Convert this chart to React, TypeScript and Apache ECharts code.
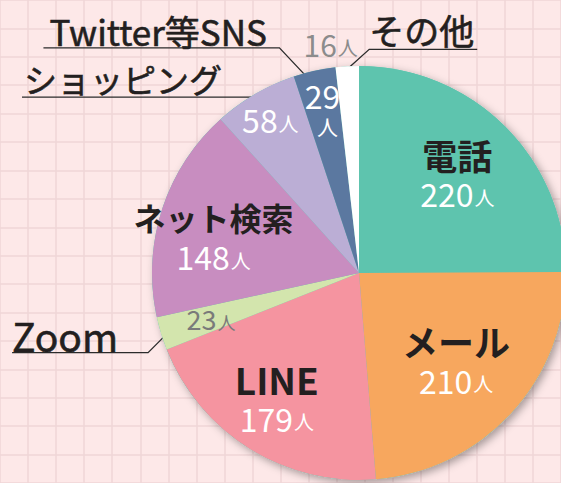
import React, { useEffect, useRef } from "react";
import * as echarts from "echarts";

// ---- data ----
const categories = ["電話", "メール", "LINE", "Zoom", "ネット検索", "ショッピング", "Twitter等SNS", "その他"];
const counts = [220, 210, 179, 23, 148, 58, 29, 16];
const unit = "人";
const sliceColors = ["#5ec4ae", "#f7a75e", "#f594a0", "#d3e5ad", "#c88dc0", "#bbaed5", "#5b78a0", "#ffffff"];
// which labels go where
const insideNamed = ["電話", "メール", "LINE", "ネット検索"];
const outsideNamed = ["Zoom", "ショッピング", "Twitter等SNS", "その他"];
const whiteValueOnly = ["ショッピング"];
const stackedValue = ["Twitter等SNS"];
const greyValue = ["Zoom", "その他"];

const FONT = '"Noto Sans CJK JP", "Noto Sans", sans-serif';
const CENTER: [number, number] = [359, 273];
const R = 207;

// per-label text sizes
const nameSize: Record<string, number> = {
  "電話": 35, "メール": 36, "LINE": 37, "ネット検索": 32,
  "Zoom": 39, "ショッピング": 33, "Twitter等SNS": 35, "その他": 35,
};
// label fine-tuning (offsets from library anchor)
const innerNudge: Record<string, [number, number]> = {
  "電話": [-5, 3],
  "メール": [-11, -13],
  "LINE": [-5, -1],
  "Zoom": [-8, 3],
  "ネット検索": [-6, 7],
  "ショッピング": [-15, -27],
  "Twitter等SNS": [-5, -22],
  "その他": [-20, -83],
};
// leader line geometry relative to slice edge anchor
const outerSpec: Record<string, { start: number[]; elbow: number[]; end: number[]; text: number[] }> = {
  "その他": { start: [1, 2], elbow: [22, -17], end: [130, -17], text: [22, -19] },
  "Twitter等SNS": { start: [-2, 12], elbow: [-35, -23], end: [-271, -23], text: [-265, -23] },
  "ショッピング": { start: [8, 14], elbow: [-3, 3], end: [-233, 3], text: [-231, 1] },
  "Zoom": { start: [10, -4], elbow: [-13, 19], end: [-149, 19], text: [-149, 21] },
};

function innerFormatter(name: string, value: number): string {
  if (insideNamed.includes(name)) return `{n${nameSize[name]}|${name}}\n{v|${value}}{u|${unit}}`;
  if (whiteValueOnly.includes(name)) return `{v|${value}}{u|${unit}}`;
  if (stackedValue.includes(name)) return `{v|${value}}\n{u2|${unit}}`;
  if (greyValue.includes(name)) return name === "その他" ? `{gl|${value}}{glu|${unit}}` : `{g|${value}}{gu|${unit}}`;
  return "";
}

export default function App() {
  const ref = useRef<HTMLDivElement>(null);
  useEffect(() => {
    const chart = echarts.init(ref.current!, null, { renderer: "svg" });
    const gridStep = 32.2;
    const nameRich: Record<string, any> = {};
    insideNamed.forEach((n) => {
      nameRich["n" + nameSize[n]] = {
        fontFamily: FONT, fontSize: nameSize[n], fontWeight: "bold", color: "#231f20", lineHeight: 42,
      };
    });
    const option: any = {
      animation: false,
      backgroundColor: "#fde8e8",
      grid: { left: 20.7 - gridStep, top: 11 - gridStep, width: gridStep * 20, height: gridStep * 17 },
      xAxis: {
        type: "value", min: 0, max: 20, interval: 1,
        axisLine: { show: false }, axisTick: { show: false }, axisLabel: { show: false },
        splitLine: { show: true, lineStyle: { color: "#efd6d7", width: 1.5 } },
      },
      yAxis: {
        type: "value", min: 0, max: 17, interval: 1,
        axisLine: { show: false }, axisTick: { show: false }, axisLabel: { show: false },
        splitLine: { show: true, lineStyle: { color: "#efd6d7", width: 1.5 } },
      },
      series: [
        {
          // shadow disc under the pie
          type: "pie",
          center: CENTER,
          radius: R,
          silent: true,
          label: { show: false },
          labelLine: { show: false },
          data: [{ value: 1, itemStyle: { color: sliceColors[0] } }],
          itemStyle: { shadowBlur: 8, shadowOffsetX: 3, shadowOffsetY: 3, shadowColor: "rgba(0,0,0,0.35)" },
        },
        {
          type: "pie",
          center: CENTER,
          radius: R,
          startAngle: 90,
          clockwise: true,
          silent: true,
          avoidLabelOverlap: false,
          itemStyle: { borderWidth: 0 },
          data: categories.map((name, i) => ({
            name,
            value: counts[i],
            itemStyle: { color: sliceColors[i] },
            label: { show: outsideNamed.includes(name), fontSize: nameSize[name] },
            labelLine: { show: outsideNamed.includes(name) },
          })),
          label: {
            position: "outside",
            formatter: "{b}",
            fontFamily: FONT,
            fontSize: 33,
            fontWeight: "normal",
            color: "#231f20",
            textBorderColor: "#231f20",
            textBorderWidth: 0.6,
          },
          labelLine: { length: 20, length2: 40, lineStyle: { color: "#2b2b2b", width: 1.3 } },
          labelLayout: (p: any) => {
            const name = categories[p.dataIndex];
            const s = outerSpec[name];
            if (!s || !p.labelLinePoints) return {};
            const [ax, ay] = p.labelLinePoints[0];
            return {
              x: ax + s.text[0],
              y: ay + s.text[1],
              align: "left",
              verticalAlign: "bottom",
              labelLinePoints: [
                [ax + s.start[0], ay + s.start[1]],
                [ax + s.elbow[0], ay + s.elbow[1]],
                [ax + s.end[0], ay + s.end[1]],
              ],
            };
          },
        },
        {
          // label overlay
          type: "pie",
          center: CENTER,
          radius: [80, R],
          startAngle: 90,
          clockwise: true,
          silent: true,
          avoidLabelOverlap: false,
          itemStyle: { color: "rgba(0,0,0,0)" },
          labelLine: { show: false },
          data: categories.map((name, i) => ({
            name,
            value: counts[i],
            label: { formatter: innerFormatter(name, counts[i]) },
          })),
          label: {
            show: true,
            position: "inside",
            fontFamily: FONT,
            align: "center",
            rich: {
              ...nameRich,
              v: { fontFamily: FONT, fontSize: 32, color: "#ffffff", lineHeight: 36 },
              u: { fontFamily: FONT, fontSize: 20, color: "#ffffff", lineHeight: 36, padding: [8, 0, 0, 1] },
              u2: { fontFamily: FONT, fontSize: 21, color: "#ffffff", lineHeight: 26, padding: [0, 0, 0, 10] },
              g: { fontFamily: FONT, fontSize: 27, color: "#7a7a7a", lineHeight: 30 },
              gu: { fontFamily: FONT, fontSize: 18, color: "#7a7a7a", lineHeight: 30, padding: [7, 0, 0, 1] },
              gl: { fontFamily: FONT, fontSize: 30, color: "#8c8c8c", lineHeight: 32 },
              glu: { fontFamily: FONT, fontSize: 20, color: "#8c8c8c", lineHeight: 32, padding: [8, 0, 0, 1] },
            },
          },
          labelLayout: (p: any) => {
            const d = innerNudge[categories[p.dataIndex]];
            if (!d) return {};
            return { dx: d[0], dy: d[1] };
          },
        },
      ],
    };
    chart.setOption(option);
    return () => chart.dispose();
  }, []);
  return <div ref={ref} style={{ position: "absolute", left: 0, top: 0, width: 561, height: 483 }} />;
}
